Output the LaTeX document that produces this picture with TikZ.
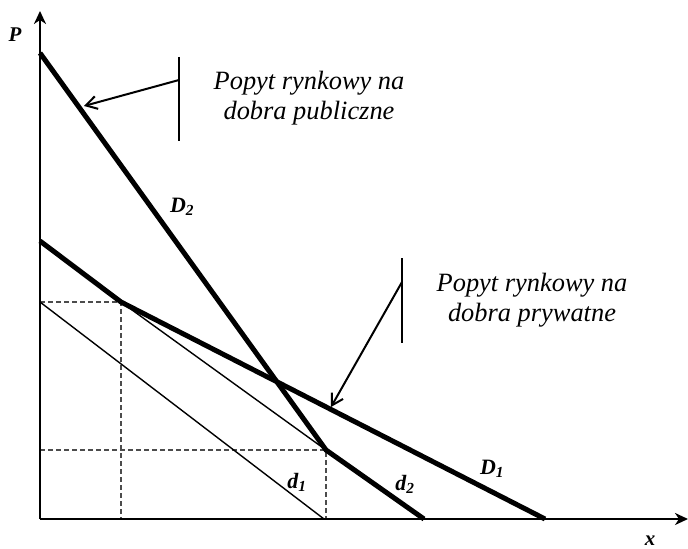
\documentclass[tikz,border=0pt]{standalone}
\usepackage{fontspec}
\setmainfont{Liberation Serif}
\usetikzlibrary{arrows.meta}
\begin{document}
\begin{tikzpicture}[x=1bp,y=-1bp,
  axis/.style={line width=2.4bp,-{Stealth[length=13bp,width=12bp,inset=4bp]}},
  demand/.style={line width=5bp,line join=miter},
  indiv/.style={line width=1.4bp},
  guide/.style={line width=1.1bp,dash pattern=on 5bp off 3bp,black!70},
  bar/.style={line width=2.2bp},
  pointer/.style={line width=2bp,-{Straight Barb[length=11bp,width=13bp]}},
  note/.style={align=center,font=\fontsize{26.5}{30}\selectfont\itshape,inner sep=0pt},
  curvelabel/.style={font=\fontsize{22}{24}\selectfont\bfseries\itshape,inner sep=0pt},
  axislabel/.style={font=\fontsize{21}{24}\selectfont\bfseries\itshape,inner sep=0pt}]
\useasboundingbox (0,0) rectangle (688,549);

% key points
\coordinate (O) at (40,519);
\coordinate (ytop) at (40,11);
\coordinate (xend) at (688,519);
\coordinate (A2) at (40,53);
\coordinate (K2) at (326,450);
\coordinate (B2) at (424,519);
\coordinate (A1) at (40,241);
\coordinate (K1) at (121,302);
\coordinate (B1) at (545,519);
\coordinate (a1) at (40,302);
\coordinate (b1) at (324,519);
\coordinate (y1) at (40,450);
\coordinate (x1) at (121,519);
\coordinate (x2) at (326,519);

% guide lines
\draw[guide] (a1) -- (K1) -- (x1);
\draw[guide] (y1) -- (K2) -- (x2);

% individual demand segments
\draw[indiv] (a1) -- (b1);
\draw[indiv] (K1) -- (K2);

% market demand curves
\draw[demand] (A2) -- (K2) -- (B2);
\draw[demand] (A1) -- (K1) -- (B1);

% axes
\draw[axis] (O) -- (ytop);
\draw[axis] (O) -- (xend);
\node[axislabel] (P) at (15,35) {P};
\node[axislabel] (X) at (650,541) {x};

% curve labels
\node[curvelabel] (D2) at (182,207) {D\textsubscript{2}};
\node[curvelabel] (D1) at (492,469) {D\textsubscript{1}};
\node[curvelabel] (d1) at (297,482) {d\textsubscript{1}};
\node[curvelabel] (d2) at (405,484) {d\textsubscript{2}};

% annotation: public goods
\coordinate (bar1t) at (179,57);
\coordinate (bar1b) at (179,141);
\coordinate (bar1m) at (179,80);
\coordinate (tip1) at (84,106);
\draw[bar] (bar1t) -- (bar1b);
\draw[pointer] (bar1m) -- (tip1);
\node[note] (pub) at (309,98) {Popyt rynkowy na\\dobra publiczne};

% annotation: private goods
\coordinate (bar2t) at (402,258);
\coordinate (bar2b) at (402,343);
\coordinate (bar2m) at (402,282);
\coordinate (tip2) at (331,407);
\draw[bar] (bar2t) -- (bar2b);
\draw[pointer] (bar2m) -- (tip2);
\node[note] (priv) at (532,300) {Popyt rynkowy na\\dobra prywatne};
\end{tikzpicture}
\end{document}
